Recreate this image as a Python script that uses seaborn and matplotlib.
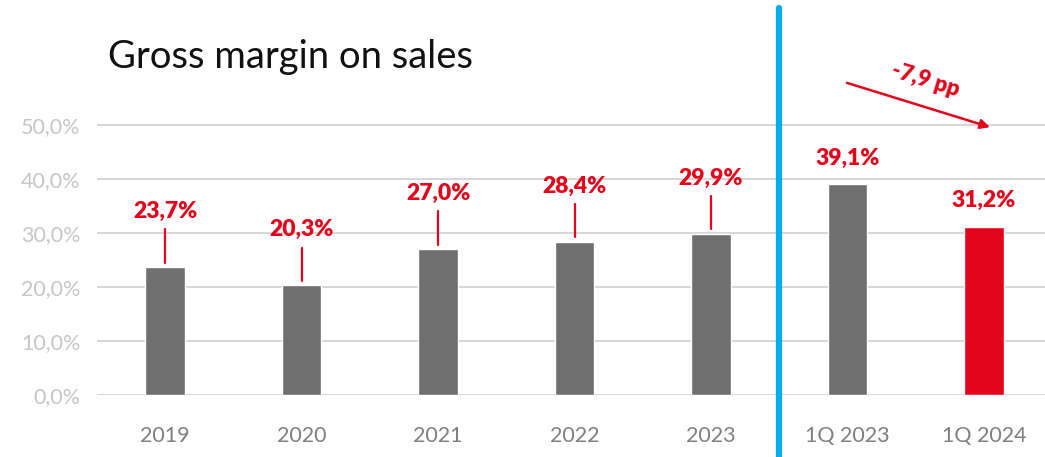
import matplotlib
matplotlib.use("Agg")
import matplotlib.pyplot as plt
import seaborn as sns
import pandas as pd

categories = ["2019", "2020", "2021", "2022", "2023", "1Q 2023", "1Q 2024"]
margin = [23.7, 20.3, 27.0, 28.4, 29.9, 39.1, 31.2]
value_labels = ["23,7%", "20,3%", "27,0%", "28,4%", "29,9%", "39,1%", "31,2%"]
y_ticks = [0, 10, 20, 30, 40, 50]
y_tick_labels = ["0,0%", "10,0%", "20,0%", "30,0%", "40,0%", "50,0%"]
change_label = "-7,9 pp"
title = "Gross margin on sales"

GREY = "#6f6f6f"
RED = "#e3051b"
BLUE = "#00aeef"

sns.set_theme(style="white")
plt.rcParams["font.family"] = ["Lato", "DejaVu Sans"]

df = pd.DataFrame({"cat": categories, "val": margin,
                   "grp": ["base"] * 6 + ["current"]})

fig = plt.figure(figsize=(10.45, 4.57), dpi=100)
W, H = 1045, 457
ax = fig.add_axes([97 / W, 62 / H, (W - 97) / W, 395 / H])

sns.barplot(data=df, x="cat", y="val", hue="grp",
            palette={"base": GREY, "current": RED}, saturation=1,
            width=0.29, dodge=False, legend=False, ax=ax, zorder=3)

ax.set_xlim(-0.5, 6.447)
ax.set_ylim(0, 73.15)
ax.set_yticks(y_ticks)
ax.set_yticklabels(y_tick_labels)
ax.set_xlabel("")
ax.set_ylabel("")
for y in y_ticks:
    ax.axhline(y, color="#d0d0d0", lw=1.2, zorder=1)
for s in ax.spines.values():
    s.set_visible(False)
ax.tick_params(axis="y", length=0, labelsize=15.5, labelcolor="#c6c6c6", pad=12)
ax.tick_params(axis="x", length=0, labelsize=15.5, labelcolor="#7f7f7f", pad=22)

# value labels: annual bars get a leader line, quarterly labels sit on the bar
for i, (v, lab) in enumerate(zip(margin, value_labels)):
    if i < 5:
        ax.text(i, v + 10.3, lab, ha="center", va="center", color=RED,
                fontsize=16.5, fontweight="heavy", zorder=5)
        ax.plot([i, i], [v + 0.8, v + 7.0], color=RED, lw=1.6, zorder=4)
    else:
        ax.text(i, v + 4.8, lab, ha="center", va="center", color=RED,
                fontsize=16.5, fontweight="heavy", zorder=5)

# separator between annual and quarterly figures
ax.plot([4.5, 4.5], [-11.6, 71.7], color=BLUE, lw=4.5, clip_on=False, zorder=6)

# change arrow between quarters
ax.annotate("", xy=(6.044, margin[6] + 18.4), xytext=(4.996, margin[5] + 18.7),
            arrowprops=dict(arrowstyle="-|>", color=RED, lw=1.8,
                            mutation_scale=14, shrinkA=0, shrinkB=0),
            annotation_clip=False, zorder=6)
ax.text(5.57, 58.3, change_label, ha="center", va="center", color=RED,
        fontsize=16, fontweight="heavy", rotation=-17, zorder=6)

fig.text(108 / W, 1 - 57 / H, title, ha="left", va="center",
         fontsize=27.5, color="#111111")

fig.savefig("out.png", dpi=100)
